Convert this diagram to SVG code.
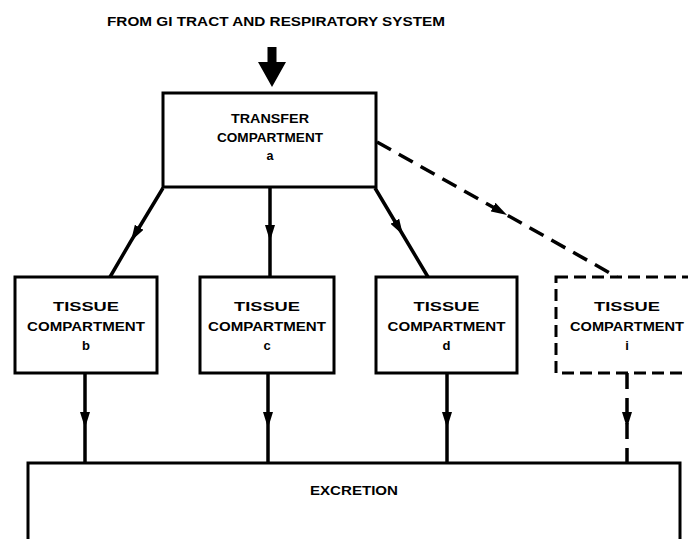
<svg xmlns="http://www.w3.org/2000/svg" width="688" height="539" viewBox="0 0 688 539">
<style>
  text { font-family: "Liberation Sans", Arial, sans-serif; font-weight: bold; fill: #000; text-anchor: middle; }
  .t { font-size: 13px; }
  .s { font-size: 12.5px; }
  .box { fill: #fff; stroke: #000; stroke-width: 3; }
  .dbox { fill: #fff; stroke: #000; stroke-width: 3; stroke-dasharray: 12 6; }
  .ln { fill: none; stroke: #000; stroke-width: 3.5; }
  .dl { fill: none; stroke: #000; stroke-width: 3.5; stroke-dasharray: 16 9; }
</style>
<defs>
  <marker id="ah" viewBox="0 0 16 10" refX="16" refY="5" markerWidth="16" markerHeight="10" markerUnits="userSpaceOnUse" orient="auto">
    <path d="M0,0 L16,5 L0,10 Z" fill="#000"/>
  </marker>
</defs>

<text x="276" y="26" style="font-size:13.5px" textLength="338" lengthAdjust="spacingAndGlyphs">FROM GI TRACT AND RESPIRATORY SYSTEM</text>

<g id="connectors">
  <!-- input arrow -->
  <path d="M267.5,47 H276.5 V62 H286 L272,87 L258,62 H267.5 Z" fill="#000"/>
  <!-- transfer to tissues -->
  <path class="ln" d="M163,188 L131,241 L110,277" marker-mid="url(#ah)"/>
  <path class="ln" d="M270,188 L270,241 L270,277" marker-mid="url(#ah)"/>
  <path class="ln" d="M375,188 L403,235 L428,277" marker-mid="url(#ah)"/>
  <path class="dl" d="M377,142 L507,215 L617,277" marker-mid="url(#ah)"/>
  <!-- tissues to excretion -->
  <path class="ln" d="M85,373 L85,428 L85,463" marker-mid="url(#ah)"/>
  <path class="ln" d="M268,373 L268,428 L268,463" marker-mid="url(#ah)"/>
  <path class="ln" d="M447,373 L447,428 L447,463" marker-mid="url(#ah)"/>
  <path class="dl" d="M627,373 L627,428 L627,463" marker-mid="url(#ah)"/>
</g>

<g id="transfer">
  <rect class="box" x="163" y="93" width="213" height="94"/>
  <text class="s" x="270" y="123" textLength="78" lengthAdjust="spacingAndGlyphs">TRANSFER</text>
  <text class="s" x="270" y="142" textLength="106" lengthAdjust="spacingAndGlyphs">COMPARTMENT</text>
  <text class="s" x="270" y="160">a</text>
</g>

<g id="tissue-b">
  <rect class="box" x="15" y="277" width="142" height="96"/>
  <text class="t" x="86" y="311" textLength="66" lengthAdjust="spacingAndGlyphs">TISSUE</text>
  <text class="t" x="86" y="331" textLength="118" lengthAdjust="spacingAndGlyphs">COMPARTMENT</text>
  <text class="t" x="86" y="350">b</text>
</g>

<g id="tissue-c">
  <rect class="box" x="200" y="277" width="134" height="96"/>
  <text class="t" x="267" y="311" textLength="66" lengthAdjust="spacingAndGlyphs">TISSUE</text>
  <text class="t" x="267" y="331" textLength="118" lengthAdjust="spacingAndGlyphs">COMPARTMENT</text>
  <text class="t" x="267" y="350">c</text>
</g>

<g id="tissue-d">
  <rect class="box" x="376" y="277" width="141" height="96"/>
  <text class="t" x="446.5" y="311" textLength="66" lengthAdjust="spacingAndGlyphs">TISSUE</text>
  <text class="t" x="446.5" y="331" textLength="118" lengthAdjust="spacingAndGlyphs">COMPARTMENT</text>
  <text class="t" x="446.5" y="350">d</text>
</g>

<g id="tissue-i">
  <rect class="dbox" x="556" y="277" width="150" height="96"/>
  <text class="t" x="627" y="311" textLength="66" lengthAdjust="spacingAndGlyphs">TISSUE</text>
  <text class="t" x="627" y="331" textLength="114" lengthAdjust="spacingAndGlyphs">COMPARTMENT</text>
  <text class="t" x="627" y="350">i</text>
</g>

<g id="excretion">
  <rect class="box" x="28" y="463" width="652" height="100"/>
  <text class="s" x="354" y="495" textLength="88" lengthAdjust="spacingAndGlyphs">EXCRETION</text>
</g>
</svg>
